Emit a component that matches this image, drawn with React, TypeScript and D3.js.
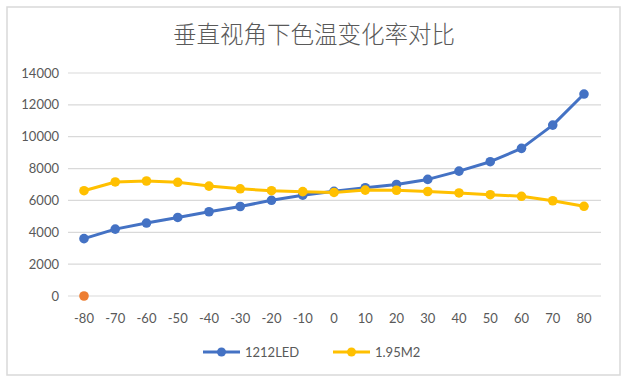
import React from "react";
import * as d3 from "d3";

const angles = [-80, -70, -60, -50, -40, -30, -20, -10, 0, 10, 20, 30, 40, 50, 60, 70, 80];
const led1212 = [3600, 4200, 4580, 4930, 5290, 5620, 6010, 6330, 6570, 6800, 7000, 7320, 7840, 8430, 9270, 10730, 12680];
const m195 = [6610, 7160, 7220, 7140, 6900, 6730, 6610, 6550, 6500, 6650, 6640, 6560, 6470, 6360, 6260, 5980, 5630];
const extraPoint = [{ x: -80, y: 0 }];
const yTicks = [0, 2000, 4000, 6000, 8000, 10000, 12000, 14000];
const title = "垂直视角下色温变化率对比";
const seriesNames = ["1212LED", "1.95M2"];

const W = 630;
const H = 388;
const BLUE = "#4472C4";
const YELLOW = "#FFC000";
const ORANGE = "#ED7D31";
const TEXT = "#595959";

export default function App() {
  const x = d3.scalePoint<number>().domain(angles).range([84, 584]);
  const y = d3.scaleLinear().domain([0, 14000]).range([296, 73]);
  const line = d3
    .line<number>()
    .x((_, i) => x(angles[i]) as number)
    .y((d) => y(d));

  const series = [
    { name: seriesNames[0], values: led1212, color: BLUE },
    { name: seriesNames[1], values: m195, color: YELLOW },
  ];

  const font = "Lato, 'Open Sans', sans-serif";

  return (
    <svg
      width={W}
      height={H}
      style={{ position: "absolute", left: 0, top: 0, background: "#fff" }}
    >
      <rect x={7} y={7} width={613} height={368} fill="#fff" stroke="#D9D9D9" strokeWidth={1.5} />
      <text
        x={314}
        y={43}
        textAnchor="middle"
        fontFamily="'Noto Sans CJK SC', sans-serif"
        fontWeight={300}
        fontSize={23.5}
        fill={TEXT}
      >
        {title}
      </text>
      {yTicks.map((t) => (
        <g key={t}>
          <line x1={68} x2={601} y1={y(t)} y2={y(t)} stroke="#D9D9D9" strokeWidth={1.2} />
          <text
            x={59}
            y={y(t)}
            dy="0.35em"
            textAnchor="end"
            fontFamily={font}
            fontSize={13}
            fill={TEXT}
          >
            {t}
          </text>
        </g>
      ))}
      {angles.map((a) => (
        <text
          key={a}
          x={x(a)}
          y={318}
          dy="0.35em"
          textAnchor="middle"
          fontFamily={font}
          fontSize={13}
          fill={TEXT}
        >
          {a}
        </text>
      ))}
      {series.map((s) => (
        <g key={s.name}>
          <path d={line(s.values) || ""} fill="none" stroke={s.color} strokeWidth={3} strokeLinejoin="round" />
          {s.values.map((v, i) => (
            <circle key={i} cx={x(angles[i])} cy={y(v)} r={4.8} fill={s.color} />
          ))}
        </g>
      ))}
      {extraPoint.map((p, i) => (
        <circle key={i} cx={x(p.x)} cy={y(p.y)} r={4.8} fill={ORANGE} />
      ))}
      {series.map((s, i) => {
        const lx = 203 + i * 130;
        return (
          <g key={s.name}>
            <line x1={lx} x2={lx + 37} y1={352} y2={352} stroke={s.color} strokeWidth={3} />
            <circle cx={lx + 18.5} cy={352} r={4.5} fill={s.color} />
            <text x={lx + 42} y={352} dy="0.35em" fontFamily={font} fontSize={13} fill={TEXT}>
              {s.name}
            </text>
          </g>
        );
      })}
    </svg>
  );
}
